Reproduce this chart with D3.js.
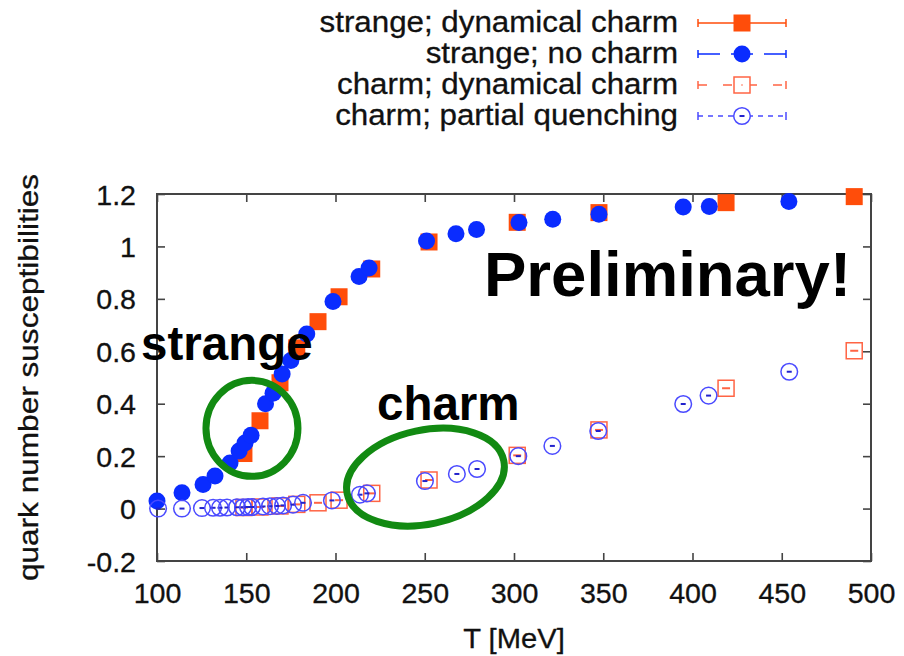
<!DOCTYPE html>
<html>
<head>
<meta charset="utf-8">
<script src="https://cdn.jsdelivr.net/npm/d3@7"></script>
<style>
  body { margin: 0; background: #fff; }
  svg { display: block; font-family: "Liberation Sans", Arial, sans-serif; }
</style>
</head>
<body>
<div id="chart"></div>
<script>
// series values
const strangeDynT   = [148.7, 157.7, 168.9, 178.3, 190.2, 202, 220.3, 252.4, 301.8, 347.6, 418.8, 490.6];
const strangeDynChi = [0.21, 0.335, 0.48, 0.613, 0.713, 0.808, 0.914, 1.017, 1.092, 1.129, 1.167, 1.19];

const strangeNoT   = [100, 114, 125.8, 132.5, 140.9, 146, 149.3, 152.7, 160.8, 165, 170.1, 175, 183.9, 198.6, 213.2, 218.8, 251, 267.5, 279, 302.8, 321.7, 347.6, 394.8, 409.4, 454];
const strangeNoChi = [0.029, 0.06, 0.092, 0.124, 0.174, 0.22, 0.25, 0.28, 0.40, 0.44, 0.513, 0.565, 0.666, 0.79, 0.885, 0.918, 1.021, 1.048, 1.065, 1.091, 1.104, 1.123, 1.15, 1.152, 1.171];

const charmDynT   = [148.7, 157.7, 168.9, 178.3, 190.2, 202, 220.3, 252.4, 301.8, 347.6, 418.8, 490.6];
const charmDynChi = [0.004, 0.006, 0.01, 0.016, 0.022, 0.032, 0.058, 0.109, 0.203, 0.3, 0.459, 0.602];

const charmPqT   = [100.6, 114, 125.2, 131.4, 135.3, 139.2, 144.8, 148.2, 151, 153.2, 159.4, 163.3, 167.2, 170.6, 176.2, 181.8, 198, 213.7, 217.6, 250.1, 268, 279.3, 302.4, 321.5, 347.2, 394.8, 409, 454.2];
const charmPqChi = [0, 0, 0.002, 0.003, 0.003, 0.004, 0.005, 0.005, 0.006, 0.006, 0.008, 0.009, 0.01, 0.012, 0.015, 0.022, 0.031, 0.053, 0.058, 0.105, 0.132, 0.151, 0.2, 0.239, 0.296, 0.399, 0.431, 0.522];

const seriesNames = ["strange; dynamical charm", "strange; no charm", "charm; dynamical charm", "charm; partial quenching"];

const xTicks = [100, 150, 200, 250, 300, 350, 400, 450, 500];
const yTicks = [-0.2, 0, 0.2, 0.4, 0.6, 0.8, 1, 1.2];
const yTickLabels = ["-0.2", "0", "0.2", "0.4", "0.6", "0.8", "1", "1.2"];

const W = 904, H = 656;
const orange = "#ff4d0a", blue = "#0a2cff";
const orangeOpen = "#ff6444", blueOpen = "#4a4aff";
const stretch = 1.06;   // text in the picture is a bit wider than plain Arial

const svg = d3.select("#chart").append("svg")
  .attr("width", W).attr("height", H);

const x = d3.scaleLinear().domain([100, 500]).range([157, 871]);
const y = d3.scaleLinear().domain([-0.2, 1.2]).range([561, 194]);

const zip = (a, b) => a.map((d, i) => ({T: d, v: b[i]}));

// axes with inward ticks on all four sides
const tickLen = 8;
const xAxisB = svg.append("g").attr("transform", `translate(0,${y(-0.2)})`)
  .call(d3.axisBottom(x).tickValues(xTicks).tickSizeInner(-tickLen).tickSizeOuter(0));
const xAxisT = svg.append("g").attr("transform", `translate(0,${y(1.2)})`)
  .call(d3.axisTop(x).tickValues(xTicks).tickSizeInner(-tickLen).tickSizeOuter(0).tickFormat(""));
const yAxisL = svg.append("g").attr("transform", `translate(${x(100)},0)`)
  .call(d3.axisLeft(y).tickValues(yTicks).tickSizeInner(-tickLen).tickSizeOuter(0)
    .tickFormat((d, i) => yTickLabels[i]));
const yAxisR = svg.append("g").attr("transform", `translate(${x(500)},0)`)
  .call(d3.axisRight(y).tickValues(yTicks).tickSizeInner(-tickLen).tickSizeOuter(0).tickFormat(""));

[xAxisB, xAxisT, yAxisL, yAxisR].forEach(g => {
  g.select(".domain").remove();
  g.selectAll(".tick line").attr("stroke", "#444").attr("stroke-width", 1.6);
});

xAxisB.selectAll(".tick text")
  .attr("font-size", 27).attr("fill", "#111").attr("stroke", "#111").attr("stroke-width", 0.3)
  .attr("font-family", "Liberation Sans, Arial")
  .attr("dy", 0).attr("y", 0)
  .attr("transform", `translate(0,42) scale(${stretch},1)`);

yAxisL.selectAll(".tick text")
  .attr("font-size", 27).attr("fill", "#111").attr("stroke", "#111").attr("stroke-width", 0.3)
  .attr("font-family", "Liberation Sans, Arial")
  .attr("dy", 0).attr("x", 0)
  .attr("transform", `translate(-21,10) scale(${stretch},1)`);

// frame
svg.append("rect")
  .attr("x", x(100)).attr("y", y(1.2))
  .attr("width", x(500) - x(100)).attr("height", y(-0.2) - y(1.2))
  .attr("fill", "none").attr("stroke", "#444").attr("stroke-width", 2);

// axis titles
svg.append("text")
  .attr("text-anchor", "middle").attr("font-size", 27).attr("fill", "#111")
  .attr("stroke", "#111").attr("stroke-width", 0.3)
  .attr("transform", `translate(${(x(100) + x(500)) / 2},648) scale(1.08,1)`)
  .text("T [MeV]");

svg.append("text")
  .attr("text-anchor", "middle").attr("font-size", 27).attr("fill", "#111")
  .attr("stroke", "#111").attr("stroke-width", 0.3)
  .attr("transform", `translate(38,${(y(-0.2) + y(1.2)) / 2}) scale(1,1.17) rotate(-90)`)
  .text("quark number susceptibilities");

// marker drawing
const sq = 17, rad = 8.5;
function filledSquares(g, data, color) {
  g.selectAll(null).data(data).join("rect")
    .attr("x", d => x(d.T) - sq / 2).attr("y", d => y(d.v) - sq / 2)
    .attr("width", sq).attr("height", sq).attr("fill", color);
}
function filledCircles(g, data, color) {
  g.selectAll(null).data(data).join("circle")
    .attr("cx", d => x(d.T)).attr("cy", d => y(d.v)).attr("r", rad).attr("fill", color);
}
function openSquares(g, data, color) {
  const s = g.selectAll(null).data(data).join("g")
    .attr("transform", d => `translate(${x(d.T)},${y(d.v)})`);
  s.append("rect").attr("x", -8).attr("y", -8).attr("width", 16).attr("height", 16)
    .attr("fill", "none").attr("stroke", color).attr("stroke-width", 1.5);
  s.append("line").attr("x1", -4).attr("x2", 4).attr("stroke", color).attr("stroke-width", 2);
}
function openCircles(g, data, color) {
  const s = g.selectAll(null).data(data).join("g")
    .attr("transform", d => `translate(${x(d.T)},${y(d.v)})`);
  s.append("circle").attr("r", 8.3)
    .attr("fill", "none").attr("stroke", color).attr("stroke-width", 1.5);
  s.append("line").attr("x1", -2.5).attr("x2", 2.5).attr("stroke", "#2222cc").attr("stroke-width", 2);
}

const plot = svg.append("g");
filledSquares(plot.append("g"), zip(strangeDynT, strangeDynChi), orange);
filledCircles(plot.append("g"), zip(strangeNoT, strangeNoChi), blue);
openSquares(plot.append("g"), zip(charmDynT, charmDynChi), orangeOpen);
openCircles(plot.append("g"), zip(charmPqT, charmPqChi), blueOpen);

// legend
const legendRows = [23, 54, 85, 116];
const legX1 = 698, legX2 = 786, legMark = 742, legTextX = 678;
const legDash = [null, "22,11", "9,16", "5,5"];
const legColor = [orange, blue, orangeOpen, blueOpen];
const legend = svg.append("g");
seriesNames.forEach((name, i) => {
  const ly = legendRows[i];
  legend.append("text")
    .attr("text-anchor", "end").attr("font-size", 29).attr("fill", "#111")
    .attr("stroke", "#111").attr("stroke-width", 0.3)
    .attr("transform", `translate(${legTextX},${ly + 9}) scale(1.08,1)`)
    .text(name);
  const c = legColor[i];
  legend.append("line").attr("x1", legX1).attr("x2", legX2).attr("y1", ly).attr("y2", ly)
    .attr("stroke", c).attr("stroke-width", 1.5).attr("stroke-dasharray", legDash[i]);
  [legX1, legX2].forEach(cx => legend.append("line")
    .attr("x1", cx).attr("x2", cx).attr("y1", ly - 4).attr("y2", ly + 4)
    .attr("stroke", c).attr("stroke-width", 1.5));
  const m = legend.append("g");
  if (i === 0) m.append("rect").attr("x", legMark - sq / 2).attr("y", ly - sq / 2).attr("width", sq).attr("height", sq).attr("fill", c);
  if (i === 1) m.append("circle").attr("cx", legMark).attr("cy", ly).attr("r", rad).attr("fill", c);
  if (i === 2) {
    m.append("rect").attr("x", legMark - 8).attr("y", ly - 8).attr("width", 16).attr("height", 16)
      .attr("fill", "#fff").attr("stroke", c).attr("stroke-width", 1.5);
    m.append("circle").attr("cx", legMark).attr("cy", ly).attr("r", 0.8).attr("fill", c);
  }
  if (i === 3) {
    m.append("circle").attr("cx", legMark).attr("cy", ly).attr("r", 8.3)
      .attr("fill", "#fff").attr("stroke", c).attr("stroke-width", 1.5);
    m.append("line").attr("x1", legMark - 2.5).attr("x2", legMark + 2.5).attr("y1", ly).attr("y2", ly)
      .attr("stroke", "#2222cc").attr("stroke-width", 2);
  }
});

// slide annotations
const ann = svg.append("g").attr("font-family", "Liberation Sans, Arial").attr("font-weight", "bold").attr("fill", "#000");
ann.append("text").attr("x", 141).attr("y", 360).attr("font-size", 47.5).text("strange");
ann.append("text").attr("x", 377).attr("y", 420).attr("font-size", 47.5).text("charm");
ann.append("text").attr("x", 484).attr("y", 296).attr("font-size", 63.5).text("Preliminary!");

const green = "#128a12";
svg.append("ellipse")
  .attr("cx", x(153.2)).attr("cy", y(0.306)).attr("rx", 46).attr("ry", 48)
  .attr("fill", "none").attr("stroke", green).attr("stroke-width", 7);
svg.append("ellipse")
  .attr("transform", `translate(${x(250.4)},${y(0.12)}) rotate(-12)`)
  .attr("rx", 80).attr("ry", 47)
  .attr("fill", "none").attr("stroke", green).attr("stroke-width", 7);
</script>
</body>
</html>
